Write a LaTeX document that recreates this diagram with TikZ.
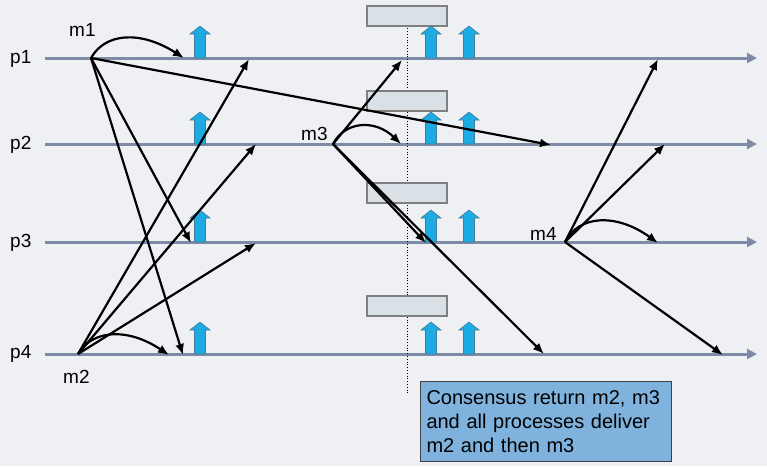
\documentclass[tikz,border=0pt]{standalone}
\usepackage{fontspec}
\setmainfont{Liberation Sans}
\usetikzlibrary{arrows.meta}
\definecolor{bgc}{HTML}{EEF0F4}
\definecolor{tl}{HTML}{7D8BA6}
\definecolor{blk}{HTML}{1EABE3}
\definecolor{blkd}{HTML}{3F7E9E}
\definecolor{gbox}{HTML}{D9E0E6}
\definecolor{gboxd}{HTML}{7F7F7F}
\definecolor{cbox}{HTML}{7FB3DD}
\begin{document}
\begin{tikzpicture}[x=1pt,y=-1pt,
  timeline/.style={draw=tl, line width=3pt, -{Triangle[length=10pt,width=10pt]}},
  msg/.style={draw=black, line width=2.2pt, -{Latex[length=11pt,width=9pt]}},
  lbl/.style={font=\fontsize{19}{22}\selectfont, inner sep=0pt, anchor=base west},
  graybox/.style={draw=gboxd, fill=gbox, line width=1.2pt},
  blockarrow/.pic={\draw[draw=blkd, fill=blk, line width=0.6pt]
     (-5.5,0) -- (-5.5,-24) -- (-10,-24) -- (0,-32) -- (10,-24) -- (5.5,-24) -- (5.5,0) -- cycle;},
  notebox/.style={draw=black!75, fill=cbox, line width=1pt, anchor=north west,
     minimum width=251pt, minimum height=80pt, text width=239pt, inner xsep=6pt,
     align=left, font=\fontsize{20}{24.3}\selectfont}
]
\useasboundingbox[fill=bgc] (0,0) rectangle (767,466);

% time lines
\foreach \n/\y in {1/58,2/144,3/242,4/354}{
  \coordinate (s\n) at (45,\y);
  \coordinate (e\n) at (757,\y);
  \draw[timeline] (s\n) -- (e\n);
}

% dotted line and consensus boxes
\coordinate (d1) at (407,6);
\coordinate (d2) at (407,395);
\draw[dotted, line width=0.8pt] (d1) -- (d2);
\foreach \y in {6,91,183,296}{
  \draw[graybox] (367,\y) rectangle (447,\y+20);
}

% delivery block arrows
\foreach \y in {58,144,242,354}{
  \pic at (200,\y) {blockarrow};
  \pic at (431,\y) {blockarrow};
  \pic at (469,\y) {blockarrow};
}

% labels
\node[lbl] (lp1) at (10,63) {p1};
\node[lbl] (lp2) at (10,149) {p2};
\node[lbl] (lp3) at (10,247) {p3};
\node[lbl] (lp4) at (10,358) {p4};
\node[lbl] (lm1) at (69,36) {m1};
\node[lbl] (lm2) at (63,383) {m2};
\node[lbl] (lm3) at (301,140) {m3};
\node[lbl] (lm4) at (530,240) {m4};

% message origins and targets
\coordinate (m1) at (91,58);
\coordinate (m2) at (78,354);
\coordinate (m3) at (333,144);
\coordinate (m4) at (565,242);

\coordinate (m1a) at (184,58);
\coordinate (m1b) at (551,145);
\coordinate (m1c) at (191,243);
\coordinate (m1d) at (183,355);

\coordinate (m2a) at (249,59);
\coordinate (m2b) at (256,144);
\coordinate (m2c) at (256,243);
\coordinate (m2d) at (169,355);

\coordinate (m3a) at (402,60);
\coordinate (m3b) at (401,144);
\coordinate (m3c) at (426,243);
\coordinate (m3d) at (544,354);

\coordinate (m4a) at (658,59);
\coordinate (m4b) at (665,144);
\coordinate (m4c) at (658,243);
\coordinate (m4d) at (723,355);

% m1
\draw[msg] (m1) .. controls (105,33) and (140,30) .. (m1a);
\draw[msg] (m1) -- (m1b);
\draw[msg] (m1) -- (m1c);
\draw[msg] (m1) -- (m1d);
% m2
\draw[msg] (m2) .. controls (92,330) and (127,327) .. (m2d);
\draw[msg] (m2) -- (m2a);
\draw[msg] (m2) -- (m2b);
\draw[msg] (m2) -- (m2c);
% m3
\draw[msg] (m3) .. controls (345,121) and (375,119) .. (m3b);
\draw[msg] (m3) -- (m3a);
\draw[msg] (m3) -- (m3c);
\draw[msg] (m3) -- (m3d);
% m4
\draw[msg] (m4) .. controls (578,216) and (615,212) .. (m4c);
\draw[msg] (m4) -- (m4a);
\draw[msg] (m4) -- (m4b);
\draw[msg] (m4) -- (m4d);

% note
\node[notebox] (note) at (420,381) {Consensus return m2, m3\\and all processes deliver\\m2 and then m3};
\end{tikzpicture}
\end{document}
